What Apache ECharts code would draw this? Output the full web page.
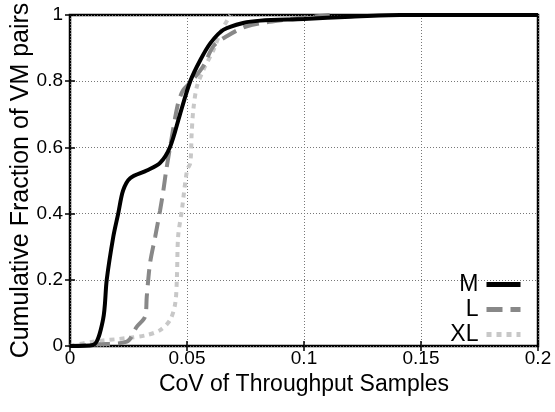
<!DOCTYPE html>
<html>
<head>
<meta charset="utf-8">
<script src="https://cdn.jsdelivr.net/npm/echarts@6/dist/echarts.min.js"></script>
<style>html,body{margin:0;padding:0;background:#fff}#c{width:555px;height:412px}</style>
</head>
<body>
<div id="c"></div>
<script>
const xTicks = [0, 0.05, 0.1, 0.15, 0.2];
const yTicks = [0, 0.2, 0.4, 0.6, 0.8, 1];
const seriesNames = ['M', 'L', 'XL'];
const mX = [0, 0.0098, 0.0141, 0.0157, 0.0185, 0.0206, 0.0227, 0.0257, 0.0328, 0.0385, 0.0428, 0.047, 0.0514, 0.0557, 0.06, 0.0655, 0.074, 0.0813, 0.1, 0.12, 0.141, 0.2];
const mY = [0, 0.003, 0.079, 0.2, 0.33, 0.40, 0.47, 0.507, 0.53, 0.553, 0.602, 0.70, 0.80, 0.864, 0.915, 0.955, 0.976, 0.983, 0.988, 0.995, 1.0, 1.0];
const lX = [0, 0.012, 0.0243, 0.0285, 0.0321, 0.0328, 0.0342, 0.0364, 0.0385, 0.0399, 0.0411, 0.0428, 0.0462, 0.0484, 0.052, 0.057, 0.0613, 0.067, 0.0756, 0.0913, 0.111];
const lY = [0, 0.005, 0.013, 0.058, 0.089, 0.149, 0.25, 0.33, 0.41, 0.47, 0.53, 0.602, 0.734, 0.773, 0.80, 0.846, 0.906, 0.936, 0.966, 0.985, 1.0];
const xlX = [0, 0.0098, 0.0243, 0.0328, 0.0385, 0.0428, 0.045, 0.0457, 0.0462, 0.0478, 0.05, 0.0514, 0.052, 0.0527, 0.0542, 0.057, 0.0613, 0.0642, 0.0685];
const xlY = [0, 0.013, 0.024, 0.033, 0.048, 0.079, 0.13, 0.21, 0.33, 0.41, 0.53, 0.553, 0.643, 0.714, 0.783, 0.834, 0.894, 0.945, 1.0];

const FONT = '"Liberation Sans", Arial, Helvetica, sans-serif';
function pairs(xs, ys) { return xs.map((x, i) => [x, ys[i]]); }

const chart = echarts.init(document.getElementById('c'), null, {renderer: 'canvas'});
const gridLine = {show: true, lineStyle: {color: '#777', type: [1, 2], width: 1}};
const styles = [
  {color: '#000000', type: 'solid'},
  {color: '#888888', type: [16, 8]},
  {color: '#c8c8c8', type: [5, 5]}
];
const dataSets = [pairs(mX, mY), pairs(lX, lY), pairs(xlX, xlY)];

chart.setOption({
  animation: false,
  grid: {left: 70, right: 17, top: 15, bottom: 66, containLabel: false, outerBoundsMode: 'none',
         show: true, borderColor: '#000', borderWidth: 2.5, backgroundColor: 'transparent'},
  xAxis: [{
    type: 'value', min: xTicks[0], max: xTicks[xTicks.length - 1], interval: 0.05,
    name: 'CoV of Throughput Samples', nameLocation: 'middle', nameGap: 26,
    nameTextStyle: {fontFamily: FONT, fontSize: 23, color: '#000'},
    axisLine: {show: false},
    axisTick: {show: true, inside: true, length: 5, lineStyle: {color: '#000', width: 1.5}},
    axisLabel: {fontFamily: FONT, fontSize: 19, color: '#000', margin: 3, formatter: v => String(+v.toFixed(2))},
    splitLine: gridLine
  }, {
    type: 'value', position: 'top', min: 0, max: 0.2, interval: 0.05,
    axisLine: {show: false}, axisLabel: {show: false}, splitLine: {show: false},
    axisTick: {show: true, inside: true, length: 5, lineStyle: {color: '#000', width: 1.5}}
  }],
  yAxis: [{
    type: 'value', min: yTicks[0], max: yTicks[yTicks.length - 1], interval: 0.2,
    name: 'Cumulative Fraction of VM pairs', nameLocation: 'middle', nameGap: 36, nameMoveOverlap: false,
    nameTextStyle: {fontFamily: FONT, fontSize: 25, color: '#000'},
    axisLine: {show: false},
    axisTick: {show: true, inside: true, length: 5, lineStyle: {color: '#000', width: 1.5}},
    axisLabel: {fontFamily: FONT, fontSize: 19, color: '#000', margin: 7, formatter: v => String(+v.toFixed(1))},
    splitLine: gridLine
  }, {
    type: 'value', position: 'right', min: 0, max: 1, interval: 0.2,
    axisLine: {show: false}, axisLabel: {show: false}, splitLine: {show: false},
    axisTick: {show: true, inside: true, length: 5, lineStyle: {color: '#000', width: 1.5}}
  }],
  legend: {
    orient: 'vertical', right: 27, bottom: 61, align: 'right',
    itemWidth: 34, itemHeight: 14, itemGap: 2,
    itemStyle: {opacity: 0, borderWidth: 0},
    lineStyle: {width: 5},
    textStyle: {fontFamily: FONT, fontSize: 23, color: '#000', lineHeight: 22, padding: [0, 3, 0, 0]},
    data: seriesNames
  },
  series: seriesNames.map((n, i) => ({
    name: n, type: 'line', data: dataSets[i], showSymbol: false, symbol: 'none', smooth: 0.3,
    xAxisIndex: 0, yAxisIndex: 0, clip: true,
    lineStyle: {color: styles[i].color, type: styles[i].type, width: 4},
    itemStyle: {color: styles[i].color},
    z: 3 - i
  }))
});
</script>
</body>
</html>
